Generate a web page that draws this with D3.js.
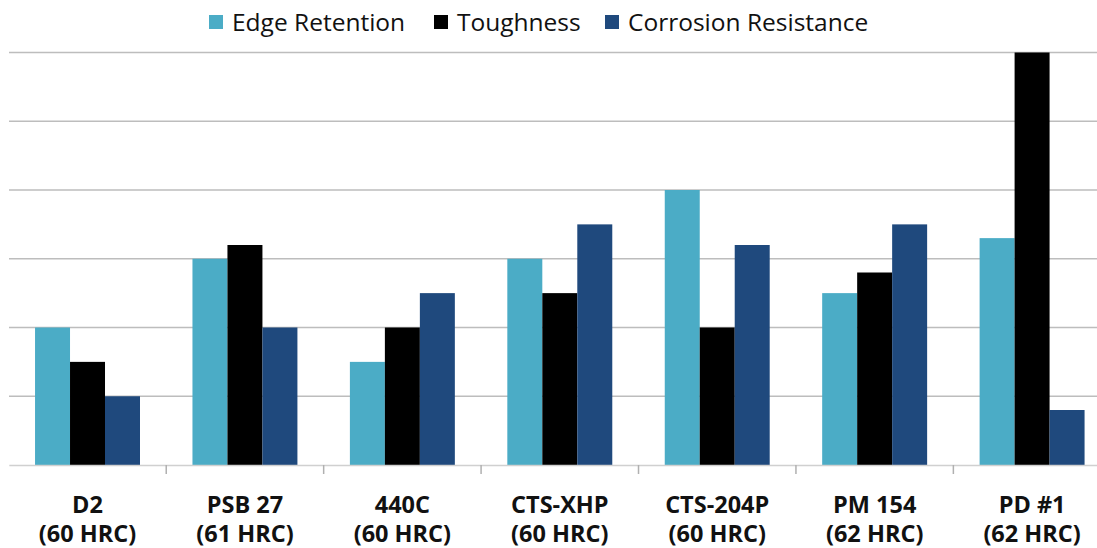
<!DOCTYPE html>
<html><head><meta charset="utf-8">
<script src="https://cdn.jsdelivr.net/npm/d3@7"></script>
<style>html,body{margin:0;padding:0;background:#fff;overflow:hidden}</style>
</head><body>
<svg id="c" width="1097" height="548"></svg>
<script>
const categories = ["D2", "PSB 27", "440C", "CTS-XHP", "CTS-204P", "PM 154", "PD #1"];
const hardness = ["(60 HRC)", "(61 HRC)", "(60 HRC)", "(60 HRC)", "(60 HRC)", "(62 HRC)", "(62 HRC)"];
const seriesNames = ["Edge Retention", "Toughness", "Corrosion Resistance"];
const edgeRetention = [2, 3, 1.5, 3, 4, 2.5, 3.3];
const toughness = [1.5, 3.2, 2, 2.5, 2, 2.8, 6];
const corrosionResistance = [1, 2, 2.5, 3.5, 3.2, 3.5, 0.8];
const yTicks = [0, 1, 2, 3, 4, 5, 6];
const colors = ["#4bacc6", "#000000", "#1f497d"];

const series = [edgeRetention, toughness, corrosionResistance];
const svg = d3.select("#c");
const font = "'Open Sans', sans-serif";

const x = d3.scaleBand().domain(categories).range([8.8, 1110.8]).paddingInner(0).paddingOuter(0);
const inner = d3.scaleBand().domain(seriesNames).range([0, x.bandwidth()]).paddingInner(0).paddingOuter(0.75);
const y = d3.scaleLinear().domain([0, 6]).range([465, 52.5]);

// gridlines
svg.append("g").selectAll("line").data(yTicks.filter(d => d > 0)).join("line")
  .attr("x1", 9).attr("x2", 1097)
  .attr("y1", d => y(d)).attr("y2", d => y(d))
  .attr("stroke", "#bdbdbd").attr("stroke-width", 1.5);

// bars
const g = svg.append("g").selectAll("g").data(categories).join("g")
  .attr("transform", d => `translate(${x(d)},0)`);
g.selectAll("rect").data((d, i) => series.map((s, j) => ({name: seriesNames[j], v: s[i], c: colors[j]}))).join("rect")
  .attr("x", d => inner(d.name)).attr("width", inner.bandwidth())
  .attr("y", d => y(d.v)).attr("height", d => y(0) - y(d.v))
  .attr("fill", d => d.c);

// x axis
const xAxis = d3.axisBottom(x).tickSize(0).tickFormat("");
const ax = svg.append("g").attr("transform", `translate(0,${y(0)})`).call(xAxis);
ax.select(".domain").attr("stroke", "#d0d0d0").attr("stroke-width", 1.5);
// category separator ticks
svg.append("g").selectAll("line").data(categories.slice(1)).join("line")
  .attr("x1", d => x(d)).attr("x2", d => x(d))
  .attr("y1", y(0)).attr("y2", y(0) + 9)
  .attr("stroke", "#b0b0b0").attr("stroke-width", 1.5);

// category labels
const lab = svg.append("g").selectAll("text").data(categories).join("text")
  .attr("x", d => x(d) + x.bandwidth() / 2)
  .attr("text-anchor", "middle")
  .attr("font-family", font).attr("font-weight", "bold").attr("font-size", 23.5).attr("fill", "#111");
lab.append("tspan").attr("x", d => x(d) + x.bandwidth() / 2).attr("y", 513).text(d => d);
lab.append("tspan").attr("x", d => x(d) + x.bandwidth() / 2).attr("y", 542).text((d, i) => hardness[i]);

// legend
const legendX = [209, 434, 605];
const legend = svg.append("g");
seriesNames.forEach((n, i) => {
  const it = legend.append("g").attr("transform", `translate(${legendX[i]},0)`);
  it.append("rect").attr("x", 0).attr("y", 15).attr("width", 14).attr("height", 14).attr("fill", colors[i]);
  it.append("text").attr("x", 23).attr("y", 31).attr("font-family", font).attr("font-size", 24.5).attr("fill", "#111").text(n);
});
</script>
</body></html>
